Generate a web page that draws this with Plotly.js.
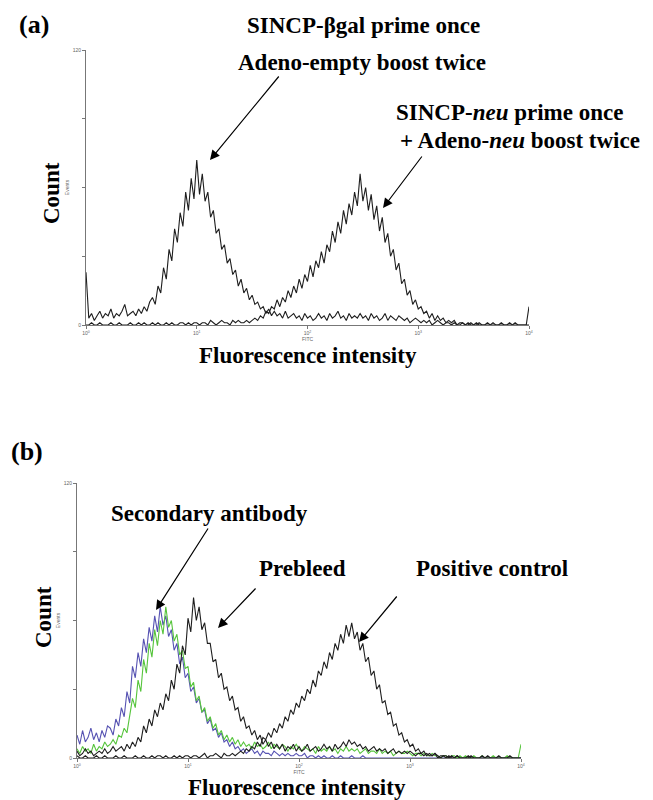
<!DOCTYPE html>
<html>
<head>
<meta charset="utf-8">
<script src="https://cdn.plot.ly/plotly-3.0.1.min.js"></script>
<style>
html,body{margin:0;padding:0;background:#fff;}
#chart{width:653px;height:800px;}
</style>
</head>
<body>
<div id="chart"></div>
<script>
// Channel grid: 40 channels per decade, 10^0 .. 10^4 (161 channels)
const CHANNELS_PER_DECADE = 40;
const N_CHANNELS = 161;

// Panel (a): SINCP-βgal prime / Adeno-empty boost (peak near 10^1)
const aBgal = [23,
 3,5,2,4,6,3,5,4,7,3,5,4,6,9,4,5,6,4,7,
 5,8,6,10,12,9,17,14,25,20,33,28,42,36,49,43,58,50,64,55,
 72,57,66,54,58,47,50,40,42,33,35,27,29,22,24,17,20,14,16,11,
 13,9,10,7,8,5,7,4,6,4,5,3,6,3,4,5,3,4,2,5,
 3,
 4,2,3,5,3,4,2,5,3,4,6,3,4,2,5,3,4,3,5,
 3,
 4,2,5,3,4,2,3,5,2,4,3,2,4,3,2,3,1,2,3,
 2,
 1,2,1,2,0,1,2,1,0,1,1,0,1,0,0,1,0,0,1,
 0,0,1,0,0,0,0,1,0,0,0,0,0,1,0,0,0,0,0,0,0];

// Panel (a): SINCP-neu prime / Adeno-neu boost (peak near 10^2.5)
const aNeu = [
 0,0,1,0,0,1,0,0,0,1,0,0,1,0,0,0,1,0,0,1,
 0,1,0,0,1,0,1,0,0,1,0,1,0,0,1,1,0,1,0,1,
 1,0,1,1,0,2,1,0,1,2,1,1,0,2,1,2,1,1,2,1,
 2,3,2,4,3,6,5,8,7,11,8,12,10,15,12,17,14,20,16,22,
 19,26,21,28,25,32,27,35,32,41,36,45,40,50,44,53,48,58,52,66,
 54,60,50,57,46,52,41,47,36,40,30,33,24,27,18,20,13,15,9,11,
 7,8,5,6,3,5,2,4,2,3,1,2,1,2,0,1,1,0,1,0,
 0,1,0,0,0,1,0,0,0,0,1,0,0,0,0,1,0,0,0,0,8];

// Panel (b): secondary antibody (blue)
const bSecBlue = [
 10,6,12,7,9,13,8,11,7,12,9,14,13,10,17,14,22,18,29,24,
 40,35,46,40,52,46,57,51,62,55,66,58,62,53,56,47,50,41,44,35,
 37,29,31,24,26,20,21,15,17,12,13,9,11,7,8,5,7,4,5,3,
 4,2,3,4,2,3,1,3,2,2,1,3,2,1,2,1,2,1,1,2,
 1,1,2,0,1,1,0,1,0,1,0,0,1,0,0,1,0,0,0,1,
 0,0,0,1,0,0,0,0,0,0,0,0,0,0,0,0,0,0,0,0,
 0,0,0,0,0,0,0,0,0,0,0,0,0,0,0,0,0,0,0,0,
 0,0,0,0,0,0,0,0,0,0,0,0,0,0,0,0,0,0,0,0,0];

// Panel (b): secondary antibody (green)
const bSecGreen = [
 4,2,5,3,4,2,6,3,5,4,7,5,6,8,6,10,9,13,11,18,
 26,22,34,29,43,37,50,44,56,49,60,54,66,57,60,51,54,45,47,39,
 40,31,33,25,27,20,22,16,18,13,15,10,12,8,10,7,9,6,8,5,
 7,5,6,4,7,5,6,4,5,7,4,6,5,4,6,5,3,5,4,6,
 4,3,5,4,3,4,2,5,3,4,3,5,3,4,2,4,3,5,3,4,
 3,4,2,3,4,2,3,3,2,4,2,3,2,3,1,2,3,2,2,3,
 2,1,2,2,1,2,1,1,2,1,1,0,1,1,0,1,1,0,1,0,
 1,0,0,1,0,0,1,0,0,0,1,0,0,0,0,1,0,0,0,0,6];

// Panel (b): prebleed (black, peak near 10^1.05)
const bPrebleed = [
 3,1,2,4,2,3,1,2,3,2,4,2,3,5,3,4,5,3,6,4,
 7,5,9,7,14,11,17,14,21,18,24,21,28,25,34,30,41,37,49,45,
 61,55,70,60,66,56,59,50,50,42,43,35,37,30,31,25,27,21,22,16,
 18,13,14,10,12,8,10,6,8,5,7,4,6,4,6,3,5,4,6,3,
 5,3,4,6,3,4,5,3,4,6,4,5,3,6,4,5,7,5,8,6,
 7,5,6,4,5,3,4,5,3,4,3,4,2,3,4,2,3,2,3,2,
 3,2,1,2,2,1,2,1,1,2,1,0,1,1,0,1,0,1,0,0,
 0,1,0,0,0,0,1,0,0,0,0,0,1,0,0,0,0,0,0,0,0];

// Panel (b): positive control (black, peak near 10^2.45)
const bPositive = [
 1,0,0,1,0,0,0,1,0,0,1,0,0,0,1,0,0,1,0,0,
 0,1,0,0,1,0,0,1,0,1,1,0,1,0,0,1,0,1,0,1,
 1,0,1,1,0,1,2,0,1,1,2,1,0,2,1,1,2,1,2,3,
 2,4,3,5,4,7,5,9,8,11,9,13,11,15,13,18,16,21,19,24,
 22,27,25,30,28,34,31,38,36,42,39,46,43,50,47,54,50,58,53,59,
 52,55,47,50,42,44,36,38,30,32,24,25,19,20,14,15,10,11,7,8,
 5,6,3,4,2,3,1,2,1,2,0,1,1,0,1,0,0,1,0,0,
 0,0,1,0,0,0,0,0,1,0,0,0,0,0,0,0,1,0,0,0,0];

const xTickVals = [1, 10, 100, 1000, 10000];
const xTickText = ['10<sup>0</sup>','10<sup>1</sup>','10<sup>2</sup>','10<sup>3</sup>','10<sup>4</sup>'];
const yTickVals = [0, 120];
const yTickText = ['0', '120'];
const yMinorTickVals = [30, 60, 90];

const channels = [];
for (let i = 0; i < N_CHANNELS; i++) channels.push(Math.pow(10, i / CHANNELS_PER_DECADE));

const W = 653, H = 800;
const px = v => v / W;
const py = v => 1 - v / H;

function line(y, color, xa, ya) {
  return {x: channels, y: y, type: 'scatter', mode: 'lines', xaxis: xa, yaxis: ya,
          line: {color: color, width: 1.1}, hoverinfo: 'skip'};
}

const traces = [
  line(aNeu, '#1e1e1e', 'x', 'y'),
  line(aBgal, '#1e1e1e', 'x', 'y'),
  line(bSecBlue, '#5652b2', 'x2', 'y2'),
  line(bSecGreen, '#56c43c', 'x2', 'y2'),
  line(bPositive, '#1e1e1e', 'x2', 'y2'),
  line(bPrebleed, '#1e1e1e', 'x2', 'y2')
];

const tiny = {family: 'Liberation Sans, Arial, sans-serif', size: 5, color: '#666'};
function xAxis(domain, anchor) {
  return {type: 'log', range: [0, 4], domain: domain, anchor: anchor,
          tickvals: xTickVals, ticktext: xTickText, tickfont: tiny,
          ticks: 'outside', ticklen: 3, tickcolor: '#777', tickwidth: 1,
          showline: true, linecolor: '#777', linewidth: 1, showgrid: false, zeroline: false,
          title: {text: 'FITC', font: tiny, standoff: 1}};
}
function yAxis(domain, anchor) {
  return {range: [0, 120], domain: domain, anchor: anchor,
          tickvals: yTickVals, ticktext: yTickText, tickfont: tiny,
          ticks: 'outside', ticklen: 3, tickcolor: '#777', tickwidth: 1,
          minor: {tickvals: yMinorTickVals, ticks: 'outside', ticklen: 3, tickcolor: '#777', tickwidth: 1, showgrid: false},
          showline: true, linecolor: '#777', linewidth: 1, showgrid: false, zeroline: false,
          title: {text: 'Events', font: tiny, standoff: 2}};
}

const serif = '"Liberation Serif", "Times New Roman", Times, serif';
const big = {family: serif, size: 23, color: '#000', weight: 'bold'};
const lbl = {family: serif, size: 26, color: '#000', weight: 'bold'};

function text(t, x, y, font, angle) {
  return {text: '<b>' + t + '</b>', x: px(x), y: py(y), xref: 'paper', yref: 'paper', showarrow: false,
          xanchor: 'center', yanchor: 'middle', font: font || big, textangle: angle || 0};
}
function arrow(tipX, tipY, tailX, tailY) {
  return {text: '', x: px(tipX), y: py(tipY), xref: 'paper', yref: 'paper',
          showarrow: true, ax: tailX - tipX, ay: tailY - tipY,
          arrowhead: 2, arrowsize: 1.6, arrowwidth: 1.2, arrowcolor: '#000', standoff: 0, startstandoff: 0};
}

const annotations = [
  text('(a)', 34, 24, lbl),
  text('SINCP-βgal prime once', 363, 26),
  text('Adeno-empty boost twice', 362, 62),
  text('SINCP-<i>neu</i> prime once', 509, 112),
  text('+ Adeno-<i>neu</i> boost twice', 520, 140),
  text('Count', 52, 193, big, -90),
  text('Fluorescence intensity', 308, 355),
  arrow(210, 160, 280, 75),
  arrow(383, 208, 423, 155),

  text('(b)', 27, 451, lbl),
  text('Secondary antibody', 209, 513),
  text('Prebleed', 302, 568),
  text('Positive control', 492, 568),
  text('Count', 43, 617, big, -90),
  text('Fluorescence intensity', 297, 787),
  arrow(156, 610, 209, 527),
  arrow(218, 628, 257, 587),
  arrow(359, 642, 398, 595)
];

const layout = {
  width: W, height: H,
  margin: {l: 0, r: 0, t: 0, b: 0},
  paper_bgcolor: '#fff', plot_bgcolor: '#fff',
  showlegend: false,
  xaxis: xAxis([px(86), px(529)], 'y'),
  yaxis: yAxis([py(325), py(50)], 'x'),
  xaxis2: xAxis([px(77), px(521)], 'y2'),
  yaxis2: yAxis([py(758), py(483)], 'x2'),
  annotations: annotations
};

Plotly.newPlot('chart', traces, layout, {displayModeBar: false, staticPlot: true});
</script>
</body>
</html>
